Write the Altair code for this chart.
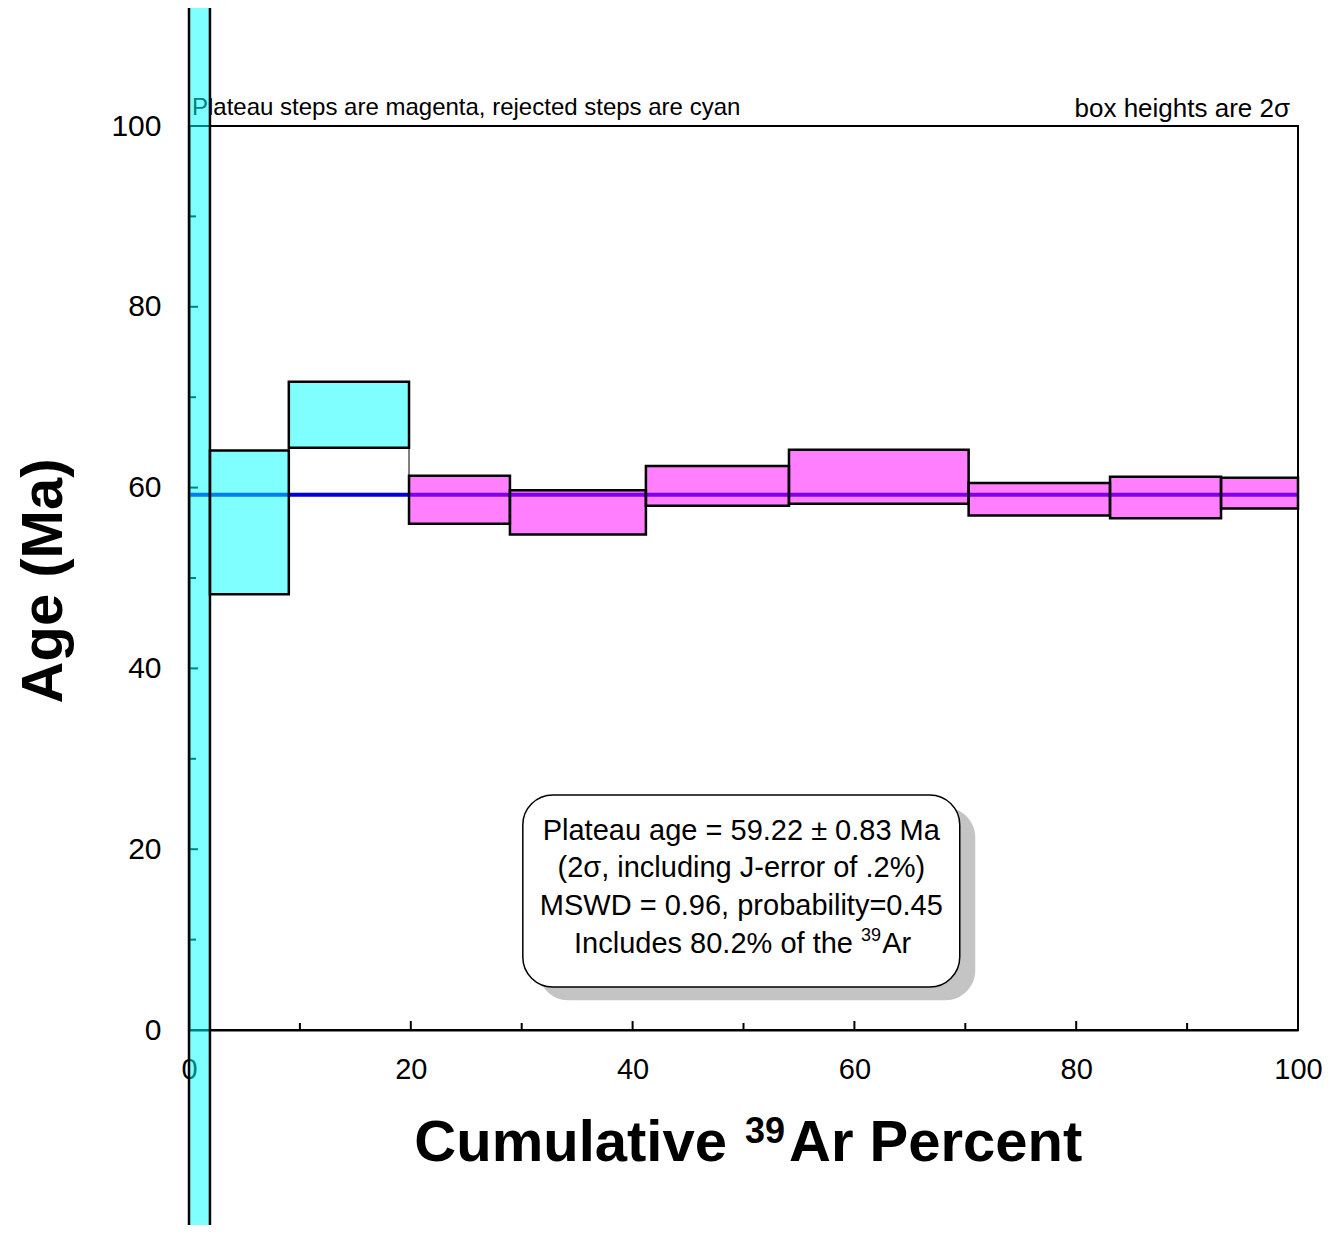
import altair as alt
import pandas as pd

# ---- data ----
step_start = [0.0, 1.89, 9.0, 19.84, 28.94, 41.2, 54.1, 70.3, 83.05, 93.06]
step_end = [1.89, 9.0, 19.84, 28.94, 41.2, 54.1, 70.3, 83.05, 93.06, 100.0]
step_age = [40.0, 56.15, 68.05, 58.65, 57.25, 60.2, 61.2, 58.7, 58.9, 59.4]
step_err = [100.0, 7.95, 3.65, 2.65, 2.45, 2.2, 3.0, 1.8, 2.3, 1.7]
step_status = ["rejected", "rejected", "rejected", "plateau", "plateau",
               "plateau", "plateau", "plateau", "plateau", "plateau"]
plateau_age = 59.22

axis_values = [0, 20, 40, 60, 80, 100]
tick_values = [0, 10, 20, 30, 40, 50, 60, 70, 80, 90, 100]

info_lines = ["Plateau age = 59.22 ± 0.83 Ma",
              "(2σ, including J-error of .2%)",
              "MSWD = 0.96, probability=0.45"]
info_last = "Includes 80.2% of the"

FONT = "Liberation Sans"
W, H = 1109, 904

steps = pd.DataFrame({
    "x0": step_start, "x1": step_end,
    "lo": [a - e for a, e in zip(step_age, step_err)],
    "hi": [a + e for a, e in zip(step_age, step_err)],
    "status": step_status,
})

conn = pd.DataFrame({
    "bx": step_end[:-1],
    "ylo": [min(steps.lo[i], steps.lo[i + 1]) for i in range(len(steps) - 1)],
    "yhi": [max(steps.hi[i], steps.hi[i + 1]) for i in range(len(steps) - 1)],
})

ticks = pd.DataFrame({"v": tick_values,
                      "major": [v % 20 == 0 for v in tick_values]})
major = ticks[ticks.major]
minor = ticks[~ticks.major]

xs = alt.Scale(domain=[0, 100], nice=False, zero=False)
ys = alt.Scale(domain=[0, 100], nice=False, zero=False)
xaxis = alt.Axis(values=axis_values, format="d", title=None, ticks=False, tickSize=0,
                 labelPadding=25, labelFlush=False, labelOverlap=False, grid=False,
                 labelFontSize=29)
yaxis = alt.Axis(values=axis_values, format="d", title=None, ticks=False, tickSize=0,
                 labelPadding=28, labelFlush=False, labelOverlap=False, grid=False,
                 labelFontSize=30)


def X(f):
    return alt.X(f, type="quantitative", scale=xs, axis=xaxis)


def Y(f):
    return alt.Y(f, type="quantitative", scale=ys, axis=yaxis)


def txt(t, x, y, size, weight="normal", align="left", angle=0):
    return alt.Chart(pd.DataFrame({"t": [t]})).mark_text(
        font=FONT, fontSize=size, fontWeight=weight, align=align,
        baseline="alphabetic", angle=angle, color="black"
    ).encode(text="t:N", x=alt.value(x), y=alt.value(y))


top_left = txt("Plateau steps are magenta, rejected steps are cyan", 3, -11, 24)
top_right = txt("box heights are 2σ", 1101, -9, 26, align="right")

connectors = alt.Chart(conn).mark_rule(color="black", strokeWidth=1).encode(
    x=X("bx"), y=Y("ylo"), y2="yhi")

pl = pd.DataFrame({"x0": [0], "x1": [100], "age": [plateau_age]})
plateau_line = alt.Chart(pl).mark_rule(color="#0000dd", strokeWidth=4).encode(
    x=X("x0"), x2="x1", y=Y("age"))

x_major = alt.Chart(major).mark_rule(color="black", strokeWidth=2).encode(
    x=X("v"), y=alt.value(H), y2=alt.value(H - 9))
x_minor = alt.Chart(minor).mark_rule(color="black", strokeWidth=2).encode(
    x=X("v"), y=alt.value(H), y2=alt.value(H - 7))
y_major = alt.Chart(major).mark_rule(color="black", strokeWidth=2).encode(
    y=Y("v"), x=alt.value(0), x2=alt.value(9))
y_minor = alt.Chart(minor).mark_rule(color="black", strokeWidth=2).encode(
    y=Y("v"), x=alt.value(0), x2=alt.value(7))

boxes = alt.Chart(steps).mark_rect(stroke="black", strokeWidth=2.5, fillOpacity=0.5).encode(
    x=X("x0"), x2="x1", y=Y("lo"), y2="hi",
    fill=alt.Fill("status:N", scale=alt.Scale(domain=["plateau", "rejected"],
                                              range=["#ff00ff", "#00ffff"]), legend=None))

shadow_df = pd.DataFrame({"x0": [31.5], "x1": [70.9], "y0": [3.3], "y1": [24.6]})
shadow = alt.Chart(shadow_df).mark_rect(fill="#c4c4c4", cornerRadius=30).encode(
    x=X("x0"), x2="x1", y=Y("y0"), y2="y1")
box_df = pd.DataFrame({"x0": [30.1], "x1": [69.5], "y0": [4.76], "y1": [26.0]})
info_box = alt.Chart(box_df).mark_rect(fill="white", stroke="black", strokeWidth=1.5,
                                       cornerRadius=30).encode(
    x=X("x0"), x2="x1", y=Y("y0"), y2="y1")

info_df = pd.DataFrame({"t": info_lines, "x": [49.8] * 3, "y": [21.0, 16.9, 12.7]})
info_text = alt.Chart(info_df).mark_text(font=FONT, fontSize=29, align="center",
                                         baseline="alphabetic", color="black").encode(
    x=X("x"), y=Y("y"), text="t:N")

last_main = alt.Chart(pd.DataFrame({"t": [info_last], "x": [59.87], "y": [8.5]})).mark_text(
    font=FONT, fontSize=29, baseline="alphabetic", align="right", color="black").encode(
    x=X("x"), y=Y("y"), text="t:N")
last_sup = alt.Chart(pd.DataFrame({"t": ["39"], "x": [60.6], "y": [9.8]})).mark_text(
    font=FONT, fontSize=18, baseline="alphabetic", align="left", color="black").encode(
    x=X("x"), y=Y("y"), text="t:N")
last_ar = alt.Chart(pd.DataFrame({"t": ["Ar"], "x": [62.5], "y": [8.5]})).mark_text(
    font=FONT, fontSize=29, baseline="alphabetic", align="left", color="black").encode(
    x=X("x"), y=Y("y"), text="t:N")

xt1 = txt("Cumulative", 538, 1035, 58, "bold", "right")
xt2 = txt("39", 556, 1017, 36, "bold", "left")
xt3 = txt("Ar Percent", 600, 1035, 58, "bold", "left")
yt = txt("Age (Ma)", -127, 455, 58, "bold", "center", angle=270)

chart = alt.layer(
    top_left, top_right, connectors, plateau_line,
    x_major, x_minor, y_major, y_minor, boxes,
    shadow, info_box, info_text, last_main, last_sup, last_ar,
    xt1, xt2, xt3, yt,
).properties(
    width=W, height=H,
    autosize=alt.AutoSizeParams(type="none"),
    padding={"left": 181, "top": 118, "right": 24, "bottom": 195},
).configure_view(
    stroke="black", strokeWidth=2
).configure_axis(
    domainColor="black", domainWidth=2, labelColor="black", labelFont=FONT
)

chart.save("out.html", embed_options={"renderer": "svg", "actions": False})
